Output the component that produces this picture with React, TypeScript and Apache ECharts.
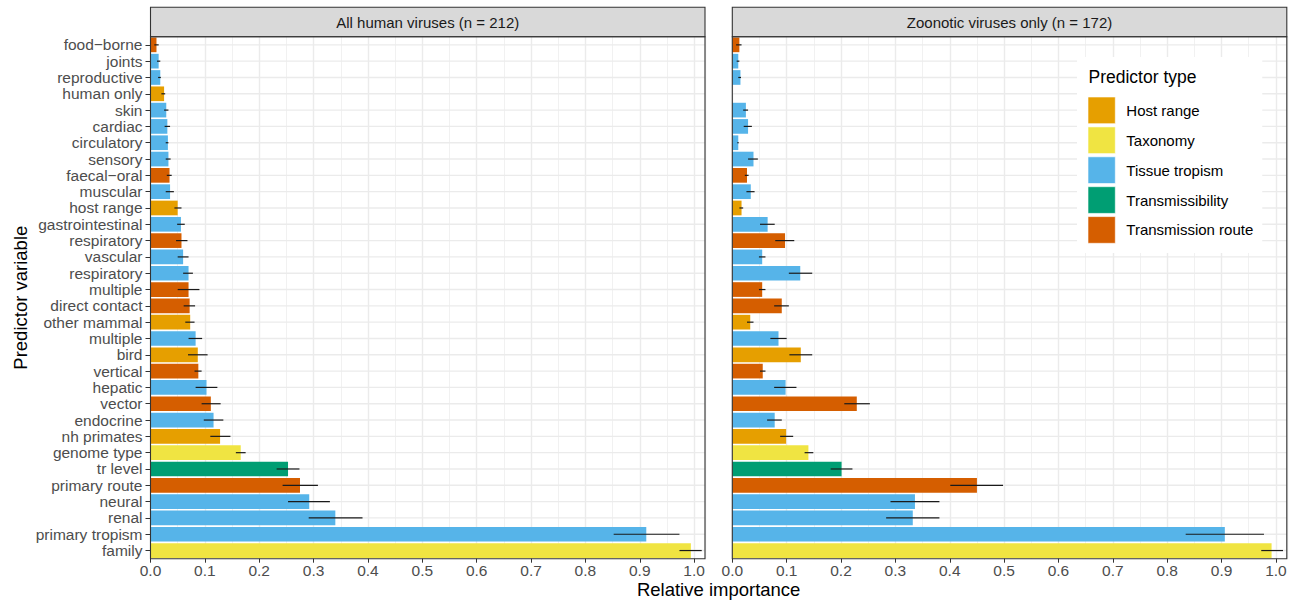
import React, { useEffect, useRef } from "react";
import * as echarts from "echarts";

// ---------------- data (top to bottom as shown) ----------------
const CATEGORIES = [
  "food−borne", "joints", "reproductive", "human only", "skin", "cardiac", "circulatory",
  "sensory", "faecal−oral", "muscular", "host range", "gastrointestinal", "respiratory",
  "vascular", "respiratory", "multiple", "direct contact", "other mammal", "multiple",
  "bird", "vertical", "hepatic", "vector", "endocrine", "nh primates", "genome type",
  "tr level", "primary route", "neural", "renal", "primary tropism", "family",
];

const TYPES = ["Host range", "Taxonomy", "Tissue tropism", "Transmissibility", "Transmission route"];
const TYPE_COLORS = ["#E69F00", "#F0E442", "#56B4E9", "#009E73", "#D55E00"];

// index into TYPES for each category
const CATEGORY_TYPE = [
  4, 2, 2, 0, 2, 2, 2, 2, 4, 2, 0, 2, 4, 2, 2, 4, 4, 0, 2, 0, 4, 2, 4, 2, 0, 1, 3, 4, 2, 2, 2, 1,
];

const PANEL_TITLES = ["All human viruses (n = 212)", "Zoonotic viruses only (n = 172)"];

const ALL_MEAN = [
  0.011, 0.015, 0.018, 0.025, 0.029, 0.031, 0.032, 0.033, 0.035, 0.036, 0.050, 0.056, 0.057,
  0.060, 0.070, 0.070, 0.072, 0.073, 0.083, 0.087, 0.088, 0.103, 0.111, 0.116, 0.128, 0.166,
  0.253, 0.275, 0.292, 0.340, 0.912, 0.994,
];
const ALL_LOW = [
  0.007, 0.012, 0.014, 0.020, 0.025, 0.026, 0.028, 0.028, 0.030, 0.028, 0.044, 0.049, 0.047,
  0.050, 0.060, 0.050, 0.061, 0.064, 0.070, 0.069, 0.081, 0.083, 0.094, 0.098, 0.110, 0.157,
  0.232, 0.243, 0.253, 0.291, 0.852, 0.973,
];
const ALL_HIGH = [
  0.015, 0.018, 0.019, 0.027, 0.033, 0.036, 0.033, 0.037, 0.039, 0.043, 0.057, 0.063, 0.068,
  0.070, 0.078, 0.090, 0.082, 0.081, 0.095, 0.105, 0.094, 0.123, 0.129, 0.134, 0.147, 0.175,
  0.274, 0.308, 0.330, 0.390, 0.973, 1.014,
];

const ZOO_MEAN = [
  0.013, 0.011, 0.015, null, 0.025, 0.029, 0.011, 0.039, 0.027, 0.034, 0.017, 0.065, 0.097,
  0.055, 0.125, 0.055, 0.091, 0.033, 0.085, 0.126, 0.056, 0.098, 0.229, 0.078, 0.099, 0.140,
  0.201, 0.450, 0.336, 0.332, 0.906, 0.992,
];
const ZOO_LOW = [
  0.007, 0.008, 0.011, null, 0.020, 0.021, 0.009, 0.029, 0.023, 0.026, 0.013, 0.051, 0.079,
  0.049, 0.104, 0.049, 0.077, 0.027, 0.070, 0.105, 0.051, 0.077, 0.206, 0.064, 0.088, 0.133,
  0.181, 0.401, 0.291, 0.283, 0.834, 0.973,
];
const ZOO_HIGH = [
  0.017, 0.013, 0.016, null, 0.029, 0.036, 0.012, 0.047, 0.030, 0.041, 0.020, 0.078, 0.114,
  0.061, 0.147, 0.061, 0.104, 0.039, 0.100, 0.147, 0.061, 0.118, 0.253, 0.091, 0.112, 0.149,
  0.221, 0.498, 0.381, 0.381, 0.978, 1.013,
];

const X_MIN = 0;
const X_MAX = 1.02;
const X_INTERVAL = 0.1;

// ---------------- layout ----------------
const FONT = "'Liberation Sans', Arial, Helvetica, sans-serif";
const PANEL_TOP = 36.7;
const PANEL_H = 522;
const PANEL_W = 554.5;
const PANEL_LEFTS = [150.5, 732.3];
const STRIP_TOP = 7.3;

export default function App() {
  const ref = useRef<HTMLDivElement>(null);

  useEffect(() => {
    if (!ref.current) return;
    const chart = echarts.init(ref.current, undefined, { renderer: "svg" });

    const panels = [
      { mean: ALL_MEAN, low: ALL_LOW, high: ALL_HIGH },
      { mean: ZOO_MEAN, low: ZOO_LOW, high: ZOO_HIGH },
    ];

    const grids = PANEL_LEFTS.map((l) => ({
      left: l,
      top: PANEL_TOP,
      width: PANEL_W,
      height: PANEL_H,
      containLabel: false,
      show: false,
    }));

    const xAxes = PANEL_LEFTS.map((_, p) => ({
      type: "value",
      gridIndex: p,
      min: X_MIN,
      max: X_MAX,
      interval: X_INTERVAL,
      axisLine: { show: false },
      axisTick: { show: true, length: 4, lineStyle: { color: "#333333", width: 1 } },
      axisLabel: {
        color: "#4d4d4d",
        fontSize: 15.5,
        fontFamily: FONT,
        margin: 4,
        showMaxLabel: false,
        formatter: (v: number) =>
          Math.abs(v * 10 - Math.round(v * 10)) < 1e-6 ? v.toFixed(1) : "",
      },
      splitLine: { show: true, lineStyle: { color: "#ebebeb", width: 1.4 } },
      minorTick: { show: false, splitNumber: 2 },
      minorSplitLine: { show: true, lineStyle: { color: "#ebebeb", width: 0.7 } },
    }));

    const yAxes = PANEL_LEFTS.map((_, p) => ({
      type: "category",
      gridIndex: p,
      data: CATEGORIES,
      inverse: true,
      axisLine: { show: false },
      axisTick: {
        show: p === 0,
        alignWithLabel: true,
        interval: 0,
        length: 5,
        lineStyle: { color: "#333333", width: 1 },
      },
      axisLabel: {
        show: p === 0,
        interval: 0,
        color: "#4d4d4d",
        fontSize: 15.5,
        fontFamily: FONT,
        margin: 8,
      },
      splitLine: { show: false },
    }));

    const series: any[] = [];
    panels.forEach((pd, p) => {
      // horizontal major grid lines at category centres
      series.push({
        type: "custom",
        xAxisIndex: p,
        yAxisIndex: p,
        z: 1,
        silent: true,
        data: CATEGORIES.map((_, i) => [0, i]),
        encode: { x: 0, y: 1 },
        renderItem: (params: any, api: any) => {
          const cs = params.coordSys;
          const y = api.coord([0, api.value(1)])[1];
          return {
            type: "line",
            shape: { x1: cs.x, y1: y, x2: cs.x + cs.width, y2: y },
            style: { stroke: "#ebebeb", lineWidth: 1.4 },
          };
        },
      });
      // bars, one series per predictor type (stacked so they share the band)
      TYPES.forEach((t, ti) => {
        series.push({
          name: t,
          type: "bar",
          xAxisIndex: p,
          yAxisIndex: p,
          stack: "panel" + p,
          barWidth: "90%",
          z: 2,
          itemStyle: { color: TYPE_COLORS[ti] },
          data: pd.mean.map((v, i) => (CATEGORY_TYPE[i] === ti ? v : null)),
        });
      });
      // error bars
      series.push({
        type: "custom",
        xAxisIndex: p,
        yAxisIndex: p,
        z: 3,
        silent: true,
        data: CATEGORIES.map((_, i) => [i, pd.low[i], pd.high[i]]).filter(
          (d) => d[1] != null && d[2] != null
        ),
        encode: { x: [1, 2], y: 0 },
        renderItem: (params: any, api: any) => {
          const a = api.coord([api.value(1), api.value(0)]);
          const b = api.coord([api.value(2), api.value(0)]);
          return {
            type: "line",
            shape: { x1: a[0], y1: a[1], x2: b[0], y2: b[1] },
            style: { stroke: "#1a1a1a", lineWidth: 1.2 },
          };
        },
      });
    });

    const graphics: any[] = [];
    PANEL_LEFTS.forEach((l, p) => {
      graphics.push({
        type: "rect",
        z: 50,
        shape: { x: l, y: STRIP_TOP, width: PANEL_W, height: PANEL_TOP - STRIP_TOP },
        style: { fill: "#d9d9d9", stroke: "#333333", lineWidth: 1.1 },
      });
      graphics.push({
        type: "text",
        z: 51,
        x: l + PANEL_W / 2,
        y: (STRIP_TOP + PANEL_TOP) / 2,
        style: {
          text: PANEL_TITLES[p],
          fontSize: 15,
          fontFamily: FONT,
          fill: "#1a1a1a",
          textAlign: "center",
          textVerticalAlign: "middle",
        },
      });
      graphics.push({
        type: "rect",
        z: 50,
        shape: { x: l, y: PANEL_TOP, width: PANEL_W, height: PANEL_H },
        style: { fill: "none", stroke: "#333333", lineWidth: 1.1 },
      });
    });
    graphics.push({
      type: "text",
      z: 60,
      x: (PANEL_LEFTS[0] + PANEL_LEFTS[1] + PANEL_W) / 2,
      y: 589,
      style: {
        text: "Relative importance",
        fontSize: 18.5,
        fontFamily: FONT,
        fill: "#000000",
        textAlign: "center",
        textVerticalAlign: "middle",
      },
    });
    graphics.push({
      type: "text",
      z: 60,
      x: 20,
      y: PANEL_TOP + PANEL_H / 2,
      rotation: Math.PI / 2,
      style: {
        text: "Predictor variable",
        fontSize: 18.5,
        fontFamily: FONT,
        fill: "#000000",
        textAlign: "center",
        textVerticalAlign: "middle",
      },
    });
    graphics.push({
      type: "text",
      z: 100,
      x: 1088.5,
      y: 77.3,
      style: {
        text: "Predictor type",
        fontSize: 17.5,
        fontFamily: FONT,
        fill: "#000000",
        textAlign: "left",
        textVerticalAlign: "middle",
      },
    });

    chart.setOption({
      animation: false,
      backgroundColor: "#ffffff",
      textStyle: { fontFamily: FONT },
      grid: grids,
      xAxis: xAxes,
      yAxis: yAxes,
      legend: {
        data: TYPES,
        orient: "vertical",
        left: 1077,
        top: 57,
        padding: [39.7, 9, 9.4, 10.7],
        itemWidth: 27.3,
        itemHeight: 26.7,
        itemGap: 2.6,
        icon: "rect",
        selectedMode: false,
        backgroundColor: "#ffffff",
        itemStyle: { borderColor: "#ffffff", borderWidth: 0.6 },
        textStyle: { fontSize: 15, color: "#000000", fontFamily: FONT, padding: [0, 0, 0, 6] },
        z: 20,
      },
      graphic: graphics,
      series,
    });

    return () => chart.dispose();
  }, []);

  return (
    <div
      ref={ref}
      style={{ position: "fixed", left: 0, top: 0, width: 1298, height: 604, background: "#fff" }}
    />
  );
}
